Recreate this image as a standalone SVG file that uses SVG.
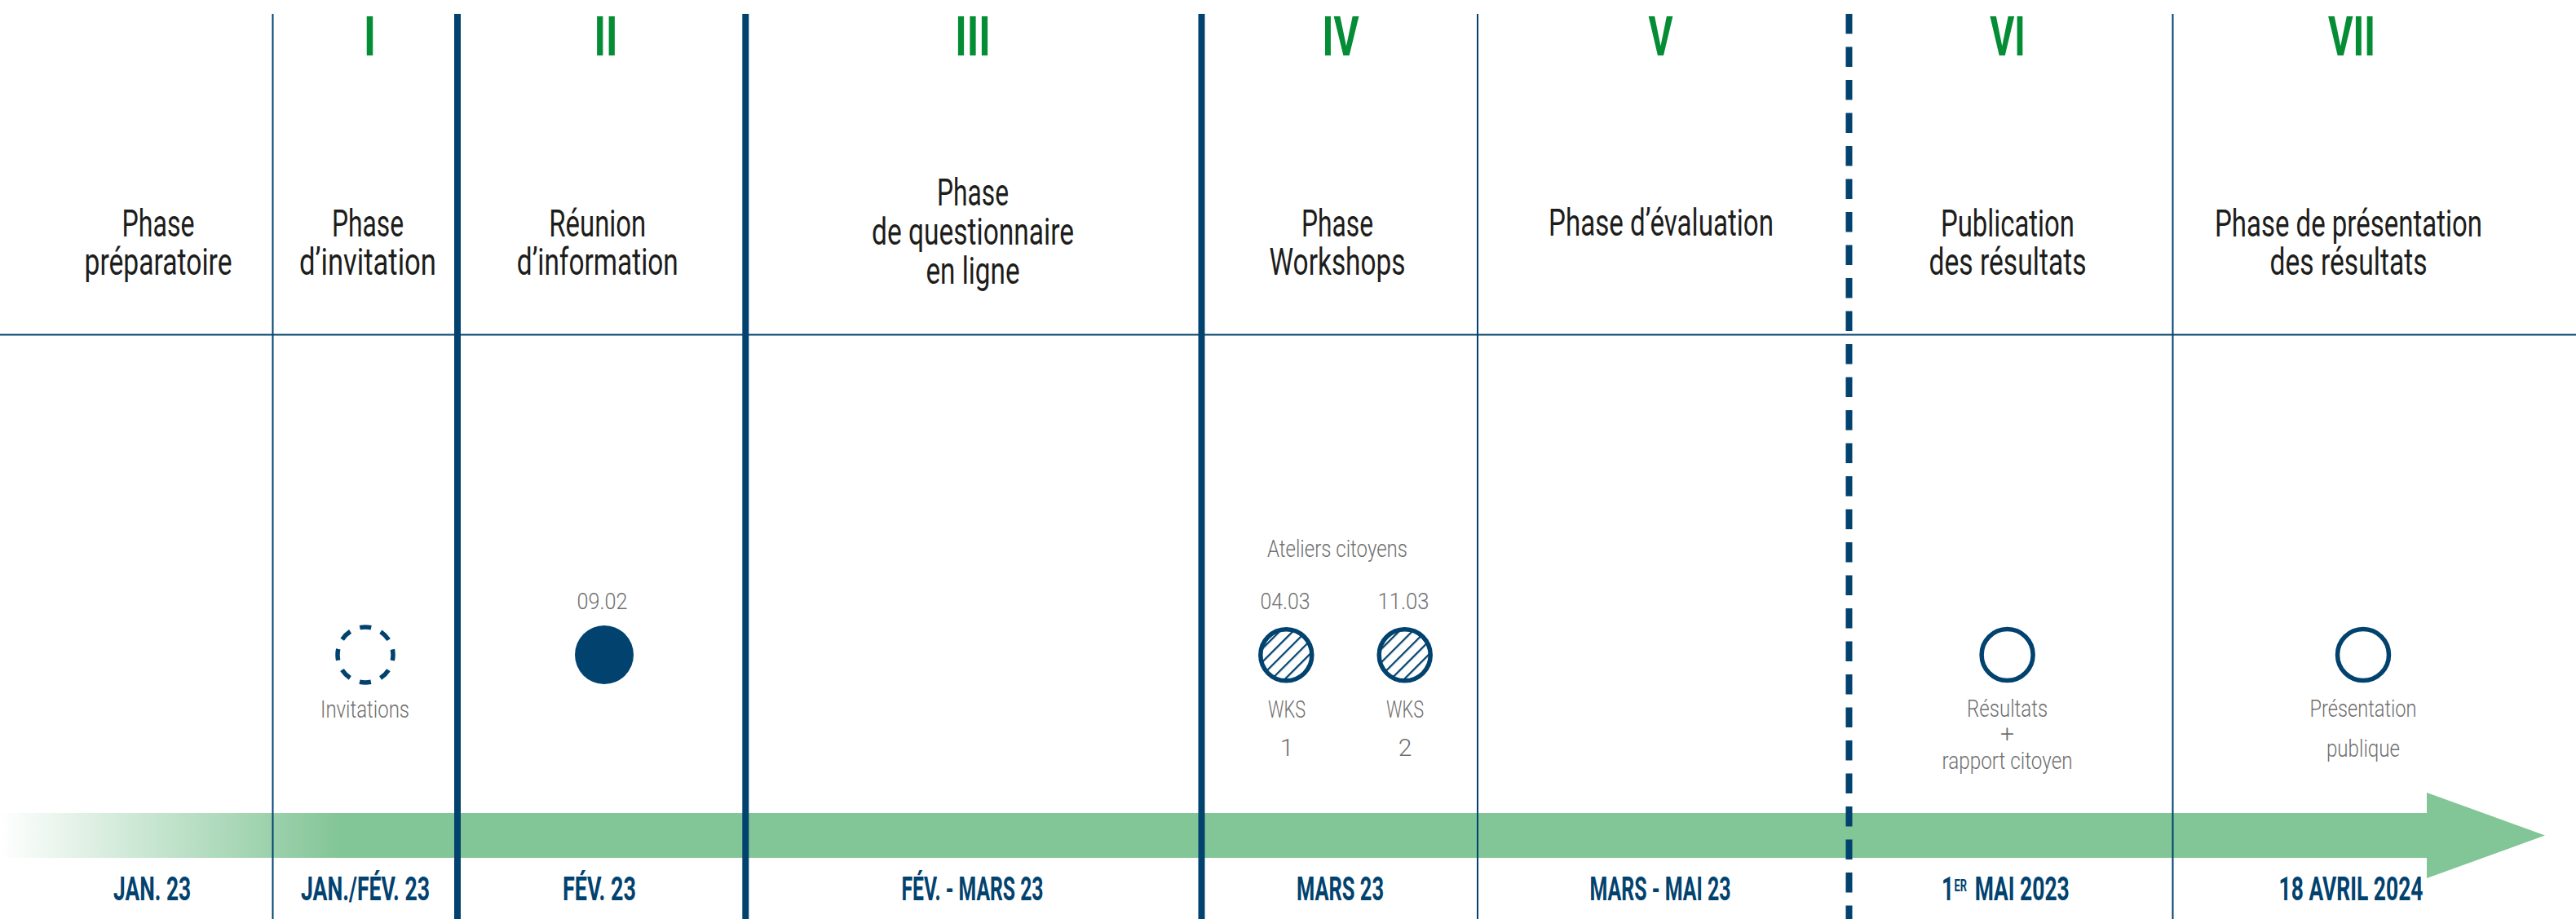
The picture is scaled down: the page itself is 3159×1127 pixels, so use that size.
<svg xmlns="http://www.w3.org/2000/svg" width="3159" height="1127" viewBox="0 0 3159 1127">
<style>
text{font-family:Roboto,"Liberation Sans",sans-serif;text-anchor:middle}
.title{font-size:46px;fill:#1d1d1b}
.num{font-size:67px;font-weight:700;fill:#058d36}
.lbl{font-size:30px;font-weight:300;fill:#706f6f}
.small{font-size:28px;font-weight:300;fill:#706f6f}
.date{font-size:41px;font-weight:700;fill:#02426e}
.thin{stroke:#02426e;stroke-width:2;fill:none}
.thick{stroke:#02426e;stroke-width:8;fill:none}
.dash{stroke:#02426e;stroke-width:8;fill:none;stroke-dasharray:24.5 16}
.ring{fill:#fff;stroke:#02426e;stroke-width:5.5}
</style>
<defs>
<linearGradient id="fade" gradientUnits="userSpaceOnUse" x1="0" y1="0" x2="420" y2="0">
<stop offset="0" stop-color="#82c596" stop-opacity="0"/>
<stop offset="1" stop-color="#82c596" stop-opacity="1"/>
</linearGradient>
<pattern id="hatch" patternUnits="userSpaceOnUse" width="11.5" height="11.5" patternTransform="rotate(45)">
<rect width="11.5" height="11.5" fill="#fff"/>
<line x1="0" y1="0" x2="0" y2="11.5" stroke="#02426e" stroke-width="4.5"/>
</pattern>
</defs>
<rect width="3159" height="1127" fill="#fff"/>

<g id="connectors">
<g id="timeline-arrow">
<rect x="0" y="997" width="420" height="55" fill="url(#fade)"/>
<rect x="419" y="997" width="2558" height="55" fill="#82c596"/>
<polygon points="2976,972 3121,1024.5 2976,1077" fill="#82c596"/>
</g>
<g id="grid">
<line class="thin" x1="0" y1="410.5" x2="3159" y2="410.5"/>
<line class="thin" x1="334.5" y1="17" x2="334.5" y2="1127"/>
<line class="thick" x1="561" y1="17" x2="561" y2="1127"/>
<line class="thick" x1="914.3" y1="17" x2="914.3" y2="1127"/>
<line class="thick" x1="1473.5" y1="17" x2="1473.5" y2="1127"/>
<line class="thin" x1="1812" y1="17" x2="1812" y2="1127"/>
<line class="dash" x1="2267.5" y1="17" x2="2267.5" y2="1127"/>
<line class="thin" x1="2664.5" y1="17" x2="2664.5" y2="1127"/>
</g>
</g>

<g id="phase-0">
<text class="title" x="194" y="290" textLength="89" lengthAdjust="spacingAndGlyphs">Phase</text>
<text class="title" x="194" y="337" textLength="181" lengthAdjust="spacingAndGlyphs">préparatoire</text>
<text class="date" x="186.6" y="1104" textLength="95" lengthAdjust="spacingAndGlyphs">JAN. 23</text>
</g>

<g id="phase-1">
<text class="num" x="453.5" y="68" textLength="15" lengthAdjust="spacingAndGlyphs">I</text>
<text class="title" x="451" y="290" textLength="88" lengthAdjust="spacingAndGlyphs">Phase</text>
<text class="title" x="451" y="337" textLength="168" lengthAdjust="spacingAndGlyphs">d’invitation</text>
<circle cx="448" cy="803" r="34" fill="none" stroke="#02426e" stroke-width="5.5" stroke-dasharray="14 12.7" stroke-dashoffset="7"/>
<text class="lbl" x="447.5" y="880" textLength="109" lengthAdjust="spacingAndGlyphs">Invitations</text>
<text class="date" x="448" y="1104" textLength="158" lengthAdjust="spacingAndGlyphs">JAN./FÉV. 23</text>
</g>

<g id="phase-2">
<text class="num" x="743" y="68" textLength="29" lengthAdjust="spacingAndGlyphs">II</text>
<text class="title" x="732.8" y="290" textLength="119" lengthAdjust="spacingAndGlyphs">Réunion</text>
<text class="title" x="732.8" y="337" textLength="198" lengthAdjust="spacingAndGlyphs">d’information</text>
<text class="small" x="738.6" y="746.7" textLength="62" lengthAdjust="spacingAndGlyphs">09.02</text>
<circle cx="741" cy="803" r="36" fill="#02426e"/>
<text class="date" x="735" y="1104" textLength="90" lengthAdjust="spacingAndGlyphs">FÉV. 23</text>
</g>

<g id="phase-3">
<text class="num" x="1193" y="68" textLength="43.5" lengthAdjust="spacingAndGlyphs">III</text>
<text class="title" x="1193" y="252" textLength="88" lengthAdjust="spacingAndGlyphs">Phase</text>
<text class="title" x="1193" y="300" textLength="248" lengthAdjust="spacingAndGlyphs">de questionnaire</text>
<text class="title" x="1193" y="348" textLength="115" lengthAdjust="spacingAndGlyphs">en ligne</text>
<text class="date" x="1192.5" y="1104" textLength="174" lengthAdjust="spacingAndGlyphs">FÉV. - MARS 23</text>
</g>

<g id="phase-4">
<text class="num" x="1644" y="68" textLength="45" lengthAdjust="spacingAndGlyphs">IV</text>
<text class="title" x="1640" y="290" textLength="88" lengthAdjust="spacingAndGlyphs">Phase</text>
<text class="title" x="1640" y="337" textLength="167" lengthAdjust="spacingAndGlyphs">Workshops</text>
<text class="lbl" x="1640" y="682.7" textLength="172" lengthAdjust="spacingAndGlyphs">Ateliers citoyens</text>
<g id="wks-1">
<text class="small" x="1576" y="746.7" textLength="61" lengthAdjust="spacingAndGlyphs">04.03</text>
<circle cx="1577.3" cy="803.3" r="31.5" fill="url(#hatch)" stroke="#02426e" stroke-width="5.5"/>
<text class="lbl" x="1578" y="880" textLength="46" lengthAdjust="spacingAndGlyphs">WKS</text>
<text class="lbl" x="1578" y="927" font-size="24">1</text>
</g>
<g id="wks-2">
<text class="small" x="1721" y="746.7" textLength="63" lengthAdjust="spacingAndGlyphs">11.03</text>
<circle cx="1722.7" cy="803.3" r="31.5" fill="url(#hatch)" stroke="#02426e" stroke-width="5.5"/>
<text class="lbl" x="1723" y="880" textLength="46" lengthAdjust="spacingAndGlyphs">WKS</text>
<text class="lbl" x="1723" y="927" font-size="24">2</text>
</g>
<text class="date" x="1643.5" y="1104" textLength="107" lengthAdjust="spacingAndGlyphs">MARS 23</text>
</g>

<g id="phase-5">
<text class="num" x="2036.5" y="68" textLength="30" lengthAdjust="spacingAndGlyphs">V</text>
<text class="title" x="2037" y="289" textLength="276" lengthAdjust="spacingAndGlyphs">Phase d’évaluation</text>
<text class="date" x="2036" y="1104" textLength="173" lengthAdjust="spacingAndGlyphs">MARS - MAI 23</text>
</g>

<g id="phase-6">
<text class="num" x="2462" y="68" textLength="43.5" lengthAdjust="spacingAndGlyphs">VI</text>
<text class="title" x="2462" y="290" textLength="164" lengthAdjust="spacingAndGlyphs">Publication</text>
<text class="title" x="2462" y="337" textLength="193" lengthAdjust="spacingAndGlyphs">des résultats</text>
<circle class="ring" cx="2461.6" cy="803" r="31.5"/>
<text class="lbl" x="2461.6" y="879" textLength="99" lengthAdjust="spacingAndGlyphs">Résultats</text>
<text class="lbl" x="2461.6" y="910" font-size="19">+</text>
<text class="lbl" x="2461.6" y="943" textLength="160" lengthAdjust="spacingAndGlyphs">rapport citoyen</text>
<text class="date" transform="translate(2381 1104) scale(0.645 1)" x="0" y="0" style="text-anchor:start">1<tspan x="24" dy="-11" font-size="20">ER</tspan><tspan x="63" dy="11">MAI 2023</tspan></text>
</g>

<g id="phase-7">
<text class="num" x="2884" y="68" textLength="58" lengthAdjust="spacingAndGlyphs">VII</text>
<text class="title" x="2880" y="290" textLength="328" lengthAdjust="spacingAndGlyphs">Phase de présentation</text>
<text class="title" x="2880" y="337" textLength="193" lengthAdjust="spacingAndGlyphs">des résultats</text>
<circle class="ring" cx="2898" cy="803" r="31.5"/>
<text class="lbl" x="2898" y="879" textLength="131" lengthAdjust="spacingAndGlyphs">Présentation</text>
<text class="lbl" x="2898" y="927.7" textLength="90" lengthAdjust="spacingAndGlyphs">publique</text>
<text class="date" x="2883" y="1104" textLength="177" lengthAdjust="spacingAndGlyphs">18 AVRIL 2024</text>
</g>
</svg>
